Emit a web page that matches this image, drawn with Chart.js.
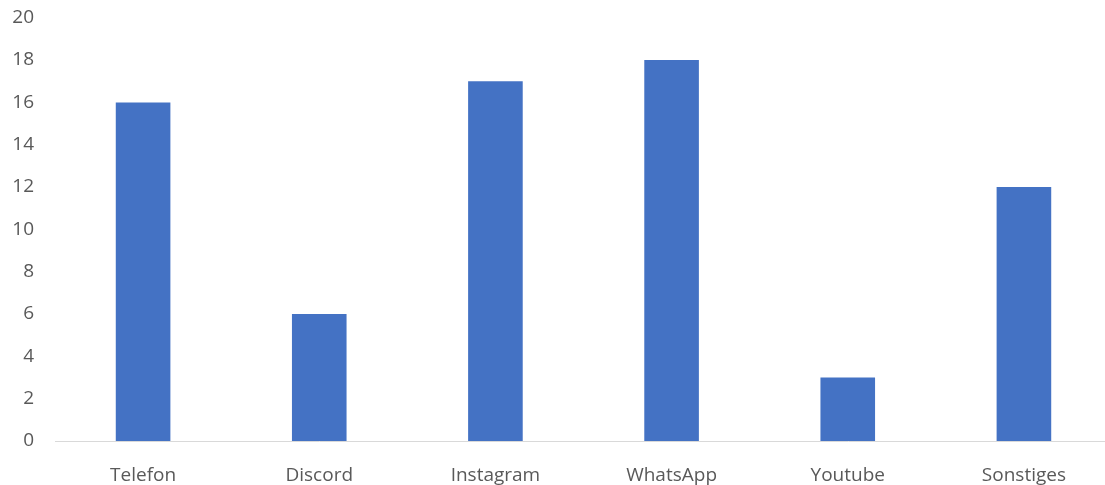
<!DOCTYPE html>
<html>
<head>
<meta charset="utf-8">
<script src="https://cdn.jsdelivr.net/npm/chart.js@4"></script>
<style>
  html, body { margin: 0; padding: 0; background: #fff; overflow: hidden; }
  #wrap { width: 1112px; height: 485px; }
</style>
</head>
<body>
<div id="wrap"><canvas id="chart"></canvas></div>
<script>
const kategorien = ['Telefon', 'Discord', 'Instagram', 'WhatsApp', 'Youtube', 'Sonstiges'];
const anzahl = [16, 6, 17, 18, 3, 12];
const yMax = 20;
const yStep = 2;

const ctx = document.getElementById('chart');

new Chart(ctx, {
  type: 'bar',
  data: {
    labels: kategorien,
    datasets: [{
      label: 'Anzahl',
      data: anzahl,
      backgroundColor: '#4472C4',
      borderWidth: 0,
      categoryPercentage: 1,
      barPercentage: 0.31
    }]
  },
  options: {
    responsive: true,
    maintainAspectRatio: false,
    animation: false,
    layout: { padding: { top: 16, left: 0, right: 0, bottom: 0 } },
    plugins: {
      legend: { display: false },
      tooltip: { enabled: false }
    },
    scales: {
      y: {
        min: 0,
        max: yMax,
        ticks: {
          stepSize: yStep,
          color: '#595959',
          // kleine Zeilenhöhe, damit die "20" oben keinen Extra-Rand erzwingt
          font: { family: 'Open Sans', size: 19, lineHeight: 0.5 },
          padding: 13
        },
        grid: { display: false },
        border: { display: false },
        afterFit: function (scale) { scale.width = 55; }
      },
      x: {
        ticks: {
          color: '#595959',
          font: { family: 'Open Sans', size: 19 },
          padding: 15
        },
        grid: { display: false },
        border: { display: true, color: '#d9d9d9', width: 1 },
        afterFit: function (scale) { scale.height = 44; }
      }
    }
  }
});
</script>
</body>
</html>
